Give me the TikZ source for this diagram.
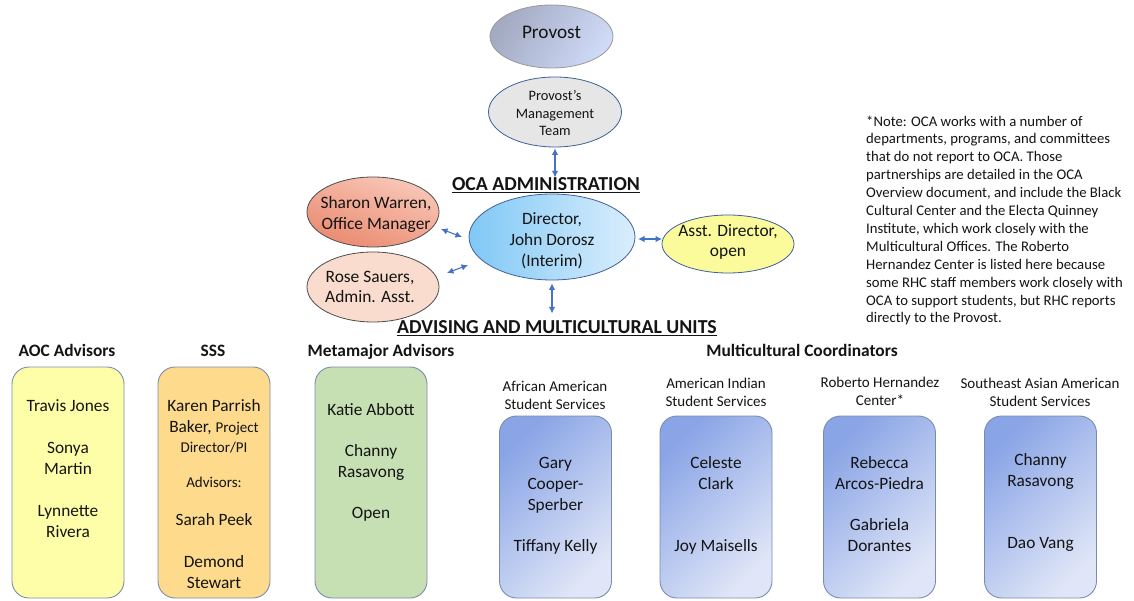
\documentclass[tikz,border=0pt]{standalone}
\usepackage{fontspec}
\setmainfont{Carlito}
\usetikzlibrary{shapes.geometric,arrows.meta}
\definecolor{arrowblue}{HTML}{4472C4}
\definecolor{ellborder}{HTML}{3F5F9A}
\definecolor{boxborder}{HTML}{7A8CAE}
\definecolor{provA}{HTML}{A3AAC2}
\definecolor{provB}{HTML}{CFDAF7}
\definecolor{pmtfill}{HTML}{E6E6E6}
\definecolor{dirA}{HTML}{80C8F6}
\definecolor{dirB}{HTML}{DAEEFC}
\definecolor{shA}{HTML}{F8C8B8}
\definecolor{shB}{HTML}{EA8A70}
\definecolor{rosefill}{HTML}{F9DCCE}
\definecolor{asstfill}{HTML}{FBFB9C}
\definecolor{aocfill}{HTML}{FEFEA8}
\definecolor{sssfill}{HTML}{FEDA8C}
\definecolor{metafill}{HTML}{C6E0B4}
\definecolor{mcA}{HTML}{8AA5E6}
\definecolor{mcB}{HTML}{E0E6F7}
\definecolor{txt}{HTML}{141414}
\begin{document}
\begin{tikzpicture}[x=1pt,y=-1pt,
  every node/.style={text=txt},
  ell/.style={ellipse, draw=ellborder, line width=0.8pt, inner sep=0pt},
  tx/.style={align=center, inner sep=0pt, anchor=base, font=\fontsize{17.3}{21}\selectfont},
  smalltx/.style={align=center, inner sep=0pt, anchor=base, font=\fontsize{15}{18}\selectfont},
  hdr/.style={inner sep=0pt, anchor=base, font=\fontsize{17.4}{20}\selectfont\bfseries},
  ttl/.style={inner sep=0pt, anchor=base, font=\fontsize{19.8}{23}\selectfont\bfseries},
  unitbox/.style={draw=boxborder, line width=0.9pt, rounded corners=17pt, minimum width=112pt, inner sep=0pt},
  mcbox/.style={unitbox, minimum height=182pt, top color=mcA, bottom color=mcB, shading angle=45},
  dbl/.style={draw=arrowblue, line width=1.1pt, {Latex[length=6.5pt,width=6.5pt]}-{Latex[length=6.5pt,width=6.5pt]}}
]
\useasboundingbox[fill=white] (0,0) rectangle (1134,601);

% Top
\node[ell, draw=gray!80, minimum width=123pt, minimum height=63pt, top color=provA, bottom color=provB, shading angle=60] (provost) at (551.5,36.5) {};
\node[tx, font=\fontsize{19.3}{23}\selectfont] (provosttx) at (551.5,39) {Provost};

\node[ell, fill=pmtfill, minimum width=133pt, minimum height=70pt] (pmt) at (555,112) {};
\node[smalltx, font=\fontsize{14.4}{17.5}\selectfont] (pmttx) at (555,136) {Provost’s\\Management\\Team};

\node[ttl] (ocaadmin) at (546,191) {\underline{OCA ADMINISTRATION}};

\node[ell, minimum width=166pt, minimum height=86pt, left color=dirA, right color=dirB] (director) at (552,237) {};
\node[tx, font=\fontsize{17.3}{21}\selectfont] (dirtx) at (552,267) {Director,\\John Dorosz\\(Interim)};

\node[ell, draw=gray!60!black, minimum width=132pt, minimum height=70pt, top color=shA, bottom color=shB, shading angle=-20] (sharon) at (373,212) {};
\node[tx, font=\fontsize{17.4}{21.5}\selectfont] (sharontx) at (376,230) {Sharon Warren,\\Office Manager};

\node[ell, draw=gray!60!black, fill=rosefill, minimum width=132pt, minimum height=70pt] (rose) at (373,287) {};
\node[tx, font=\fontsize{17.4}{20.5}\selectfont] (rosetx) at (370,303) {Rose Sauers,\\Admin. Asst.};

\node[ell, fill=asstfill, minimum width=132pt, minimum height=58pt] (asst) at (728,244) {};
\node[tx, font=\fontsize{17.4}{20.5}\selectfont] (assttx) at (728,257) {Asst. Director,\\open};

\node[ttl] (advtitle) at (557,334) {\underline{ADVISING AND MULTICULTURAL UNITS}};

% Connectors
\draw[dbl] ([yshift=-1pt]pmt.south) -- ([yshift=-30pt]pmt.south);
\draw[dbl] ([shift={(68,17)}]sharon.center) -- ([shift={(-90,0)}]director.center);
\draw[dbl] ([shift={(74,-14)}]rose.center) -- ([shift={(-84,28)}]director.center);
\draw[dbl] ([shift={(86,2)}]director.center) -- ([shift={(-66,-5)}]asst.center);
\draw[dbl] ([yshift=-3pt]director.south) -- ([yshift=-33pt]director.south);

% Note
\node[align=left, inner sep=0pt, anchor=base west, font=\fontsize{14.7}{17.9}\selectfont] (note) at (866,323) {*Note: OCA works with a number of\\departments, programs, and committees\\that do not report to OCA. Those\\partnerships are detailed in the OCA\\Overview document, and include the Black\\Cultural Center and the Electa Quinney\\Institute, which work closely with the\\Multicultural Offices. The Roberto\\Hernandez Center is listed here because\\some RHC staff members work closely with\\OCA to support students, but RHC reports\\directly to the Provost.};

% Headers
\node[hdr] (haoc) at (67,356) {AOC Advisors};
\node[hdr] (hsss) at (213,356) {SSS};
\node[hdr] (hmeta) at (381,356) {Metamajor Advisors};
\node[hdr] (hmc) at (802,356) {Multicultural Coordinators};

% Advising boxes
\node[unitbox, minimum height=231pt, fill=aocfill] (aoc) at (68,482.5) {};
\node[unitbox, minimum height=231pt, fill=sssfill] (sss) at (214,482.5) {};
\node[unitbox, minimum height=231pt, fill=metafill] (meta) at (371,482.5) {};

\node[tx] (aoctx) at (68,537) {Travis Jones\\[21pt]Sonya\\Martin\\[21pt]Lynnette\\Rivera};
\node[tx] (ssstx1) at (214,432) {Karen Parrish\\Baker, {\fontsize{15}{18}\selectfont Project}};
\node[smalltx] (ssstx2) at (214,452) {Director/PI};
\node[smalltx] (ssstx3) at (214,487) {Advisors:};
\node[tx] (ssstx4) at (214,588) {Sarah Peek\\[21pt]Demond\\Stewart};
\node[tx] (metatx) at (371,518) {Katie Abbott\\[20pt]Channy\\Rasavong\\[20pt]Open};

% Multicultural
\node[smalltx] (laa) at (555,409) {African American\\Student Services};
\node[smalltx] (lai) at (716,406) {American Indian\\Student Services};
\node[smalltx] (lrh) at (880,405) {Roberto Hernandez\\Center*};
\node[smalltx] (lsea) at (1040,406) {Southeast Asian American\\Student Services};

\node[mcbox] (aa) at (555.5,507) {};
\node[mcbox] (ai) at (716,507) {};
\node[mcbox] (rh) at (879.5,507) {};
\node[mcbox] (sea) at (1040.5,507) {};

\node[tx] (aatx) at (555.5,551) {Gary\\Cooper-\\Sperber\\[20pt]Tiffany Kelly};
\node[tx] (aitx) at (716,551) {Celeste\\Clark\\[41pt]Joy Maisells};
\node[tx] (rhtx) at (879.5,551) {Rebecca\\Arcos-Piedra\\[20pt]Gabriela\\Dorantes};
\node[tx] (seatx) at (1040.5,548) {Channy\\Rasavong\\[41pt]Dao Vang};
\end{tikzpicture}
\end{document}
